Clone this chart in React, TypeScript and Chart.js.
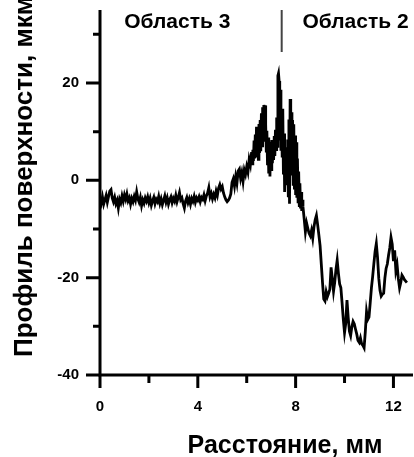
import React, { useEffect, useRef } from "react";
import { Chart, registerables } from "chart.js";

Chart.register(...registerables);

// ---- Data ----
const baselineX = [
  0.0, 0.05, 0.1, 0.15, 0.2, 0.25, 0.3, 0.35, 0.4, 0.45, 0.5, 0.55, 0.6, 0.65, 0.7, 0.75, 0.8, 0.85, 0.9, 0.95,
  1.0, 1.05, 1.1, 1.15, 1.2, 1.25, 1.3, 1.35, 1.4, 1.45, 1.5, 1.55, 1.6, 1.65, 1.7, 1.75, 1.8, 1.85, 1.9, 1.95,
  2.0, 2.05, 2.1, 2.15, 2.2, 2.25, 2.3, 2.35, 2.4, 2.45, 2.5, 2.55, 2.6, 2.65, 2.7, 2.75, 2.8, 2.85, 2.9, 2.95,
  3.0, 3.05, 3.1, 3.15, 3.2, 3.25, 3.3, 3.35, 3.4, 3.45, 3.5, 3.55, 3.6, 3.65, 3.7, 3.75, 3.8, 3.85, 3.9, 3.95,
  4.0, 4.05, 4.1, 4.15, 4.2, 4.25, 4.3, 4.35, 4.4, 4.45, 4.5, 4.55, 4.6, 4.65, 4.7, 4.75, 4.8, 4.85, 4.9, 4.95,
  5.0, 5.05, 5.1, 5.15, 5.2, 5.25, 5.3,
];
const baselineY = [
  -3.8, -4.7, -3.4, -4.9, -4.0, -3.1, -4.5, -3.3, -2.2, -1.9, -3.6, -4.4, -3.5, -4.8, -4.1, -5.7, -3.9, -4.6, -3.2, -4.3,
  -3.0, -3.9, -2.8, -4.2, -3.6, -4.9, -3.7, -4.4, -3.3, -4.1, -2.4, -3.8, -4.5, -3.5, -5.2, -4.0, -4.7, -3.6, -4.3, -3.4,
  -4.6, -3.7, -5.1, -4.2, -3.5, -4.8, -3.9, -4.4, -3.3, -4.7, -3.8, -5.0, -4.1, -3.2, -4.5, -3.6, -4.9, -4.0, -3.4, -4.6,
  -3.7, -4.3, -3.1, -4.4, -3.5, -2.5, -4.0, -3.6, -4.8, -5.7, -4.2, -3.5, -4.6, -3.8, -4.9, -3.7, -4.3, -3.3, -4.5, -3.6,
  -4.1, -3.4, -4.4, -3.5, -3.9, -3.0, -4.2, -3.2, -2.6, -1.5, -3.4, -2.7, -3.8, -2.9, -3.6, -2.2, -3.1, -1.6, -0.9, -1.8,
  -1.3, -2.6, -3.4, -4.0, -4.4, -4.1, -3.6,
];

const peakX = [
  5.35, 5.4, 5.45, 5.5, 5.55, 5.6, 5.65, 5.7, 5.75, 5.8, 5.85, 5.9, 5.95, 6.0, 6.05, 6.1, 6.15,
  6.2, 6.225, 6.25, 6.275, 6.3, 6.325, 6.35, 6.375, 6.4, 6.425, 6.45, 6.475, 6.5, 6.525, 6.55, 6.575,
  6.6, 6.625, 6.65, 6.675, 6.7, 6.725, 6.75, 6.775, 6.8, 6.825, 6.85, 6.875, 6.9, 6.925, 6.95, 6.975,
  7.0, 7.025, 7.05, 7.075, 7.1, 7.125, 7.15, 7.175, 7.2, 7.225, 7.25, 7.275, 7.3, 7.325, 7.35, 7.375,
  7.4, 7.425, 7.45, 7.475, 7.5, 7.525, 7.55, 7.575, 7.6, 7.625, 7.65, 7.675, 7.7, 7.725, 7.75, 7.775,
  7.8, 7.825, 7.85, 7.875, 7.9, 7.925, 7.95, 7.975, 8.0, 8.025, 8.05, 8.075, 8.1, 8.125, 8.15, 8.175,
  8.2, 8.225, 8.25, 8.275,
];
const peakY = [
  -2.8, -0.4, 0.3, -1.2, 0.8, -0.6, 1.9, 2.3, 0.4, 1.6, -0.2, 2.1, 1.2, 2.8, 1.7, 4.3, 3.2,
  5.8, 3.4, 6.3, 4.0, 8.2, 4.5, 9.4, 5.2, 11.0, 5.0, 10.2, 4.3, 11.6, 5.6, 12.4, 6.0,
  13.8, 7.1, 15.0, 8.2, 15.5, 12.8, 15.4, 11.5, 6.0, 10.2, 3.1, 8.8, 1.4, 7.5, 0.8, 7.9,
  2.2, 8.3, 3.5, 7.6, 4.2, 9.1, 5.0, 10.4, 6.3, 12.9, 7.0, 21.5, 22.0, 20.4, 8.2, 18.6,
  6.1, 14.3, 5.0, 14.7, 1.2, 9.6, -2.4, 5.7, -1.0, 6.8, 0.5, 8.4, -3.2, 12.5, -4.8, 16.7,
  2.6, 14.0, 1.0, 12.4, -0.8, 11.5, -1.9, 9.2, -3.0, 7.8, -3.6, 4.5, -4.4, 1.8, -5.2, -0.6,
  -5.8, -2.4, -6.3, -4.0,
];

const tailX = [
  8.3, 8.35, 8.4, 8.45, 8.5, 8.55, 8.6, 8.65, 8.7, 8.75, 8.8, 8.85, 8.9, 8.95, 9.0, 9.05, 9.1, 9.15, 9.2, 9.25,
  9.3, 9.35, 9.4, 9.45, 9.5, 9.55, 9.6, 9.65, 9.7, 9.75, 9.8, 9.85, 9.9, 9.95, 10.0, 10.05, 10.1, 10.15, 10.2, 10.25,
  10.3, 10.35, 10.4, 10.45, 10.5, 10.55, 10.6, 10.65, 10.7, 10.75, 10.8, 10.85, 10.9, 10.95, 11.0, 11.05, 11.1, 11.15, 11.2, 11.25,
  11.3, 11.35, 11.4, 11.45, 11.5, 11.55, 11.6, 11.65, 11.7, 11.75, 11.8, 11.85, 11.9, 11.95, 12.0, 12.05, 12.1, 12.15, 12.2, 12.25,
  12.3, 12.35, 12.4, 12.45, 12.5, 12.55,
];
const tailY = [
  -5.4, -7.9, -10.6, -8.8, -9.9, -10.9, -11.4, -10.3, -11.9, -9.6, -8.1, -7.2, -9.1, -11.2, -13.4, -17.2, -21.0, -24.4, -24.8, -22.9,
  -23.9, -23.2, -22.4, -17.9, -20.2, -22.8, -20.9, -18.3, -16.4, -19.1, -21.3, -22.1, -25.2, -28.6, -31.3, -29.4, -24.6, -28.2, -31.0, -31.9,
  -30.1, -29.0, -29.5, -30.6, -31.6, -32.9, -33.3, -32.4, -33.6, -33.9, -34.4, -31.1, -27.0, -28.6, -28.1, -25.2, -22.1, -19.8, -17.1, -14.6,
  -13.0, -15.9, -20.1, -22.6, -23.8, -23.4, -23.2, -20.1, -18.1, -17.2, -15.4, -13.9, -11.7, -13.1, -16.6, -14.4, -18.6, -17.4, -20.2, -22.1,
  -21.0, -19.5, -19.9, -20.4, -20.7, -21.0,
];

const yTickValues = [-40, -20, 0, 20];
const yMinorTickValues = [-30, -10, 10, 30];
const xTickValues = [0, 4, 8, 12];
const xMinorTickValues = [2, 6, 10];

const regionLabels = ["Область 3", "Область 2"];
const regionLabelCentersMm = [3.16, 10.45];
const regionBoundaryMm = 7.43;

const xAxisTitle = "Расстояние, мм";
const yAxisTitle = "Профиль поверхности, мкм";

const FONT = "'Liberation Sans', Arial, Helvetica, sans-serif";

const decorPlugin = {
  id: "decor",
  afterDraw(chart: any) {
    const ctx = chart.ctx as CanvasRenderingContext2D;
    const { left, right, top, bottom } = chart.chartArea;
    const xs = chart.scales.x;
    const ys = chart.scales.y;
    ctx.save();
    ctx.strokeStyle = "#000";
    ctx.lineCap = "butt";
    ctx.lineWidth = 3;
    // axes
    ctx.beginPath();
    ctx.moveTo(left, top);
    ctx.lineTo(left, bottom + 1.5);
    ctx.moveTo(left - 1.5, bottom);
    ctx.lineTo(right, bottom);
    ctx.stroke();
    // y ticks
    ctx.beginPath();
    yTickValues.forEach((v) => {
      const p = ys.getPixelForValue(v);
      ctx.moveTo(left - 14, p);
      ctx.lineTo(left, p);
    });
    yMinorTickValues.forEach((v) => {
      const p = ys.getPixelForValue(v);
      ctx.moveTo(left - 7, p);
      ctx.lineTo(left, p);
    });
    // x ticks
    xTickValues.forEach((v) => {
      const p = xs.getPixelForValue(v);
      ctx.moveTo(p, bottom);
      ctx.lineTo(p, bottom + 13);
    });
    xMinorTickValues.forEach((v) => {
      const p = xs.getPixelForValue(v);
      ctx.moveTo(p, bottom);
      ctx.lineTo(p, bottom + 8);
    });
    ctx.stroke();

    // region separator
    const bx = xs.getPixelForValue(regionBoundaryMm);
    ctx.strokeStyle = "#444";
    ctx.lineWidth = 2;
    ctx.beginPath();
    ctx.moveTo(bx, top);
    ctx.lineTo(bx, top + 42);
    ctx.stroke();

    // region labels
    ctx.fillStyle = "#000";
    ctx.font = `bold 21px ${FONT}`;
    ctx.textAlign = "center";
    ctx.textBaseline = "middle";
    regionLabels.forEach((t, i) => {
      ctx.fillText(t, xs.getPixelForValue(regionLabelCentersMm[i]), top + 12);
    });

    // axis titles
    ctx.font = `bold 25px ${FONT}`;
    ctx.textAlign = "center";
    ctx.textBaseline = "middle";
    ctx.fillText(xAxisTitle, left + 185, bottom + 71);

    ctx.save();
    ctx.font = `bold 26px ${FONT}`;
    ctx.translate(left - 75, bottom - 18);
    ctx.rotate(-Math.PI / 2);
    ctx.textAlign = "left";
    ctx.fillText(yAxisTitle, 0, 0);
    ctx.restore();

    ctx.restore();
  },
};

export default function App() {
  const canvasRef = useRef<HTMLCanvasElement | null>(null);

  useEffect(() => {
    const canvas = canvasRef.current;
    if (!canvas) return;
    const xs = [...baselineX, ...peakX, ...tailX];
    const ysv = [...baselineY, ...peakY, ...tailY];
    const points = xs.map((x, i) => ({ x, y: ysv[i] }));

    const tickFont = { family: FONT, size: 15, weight: "bold" as const };

    const chart = new Chart(canvas, {
      type: "line",
      data: {
        datasets: [
          {
            data: points,
            borderColor: "#000",
            borderWidth: 2.8,
            pointRadius: 0,
            tension: 0,
            fill: false,
          },
        ],
      },
      options: {
        animation: false,
        responsive: false,
        devicePixelRatio: 1,
        parsing: false as any,
        layout: { padding: { top: 10, right: 1, left: 0, bottom: 0 } },
        plugins: { legend: { display: false }, tooltip: { enabled: false } },
        scales: {
          x: {
            type: "linear",
            min: 0,
            max: 12.8,
            afterBuildTicks: (s: any) => {
              s.ticks = xTickValues.map((v) => ({ value: v }));
            },
            afterFit: (s: any) => {
              s.height = 82;
              s.paddingLeft = 0;
              s.paddingRight = 0;
            },
            grid: { display: false, drawTicks: false },
            border: { display: false },
            ticks: {
              padding: 23,
              color: "#000",
              font: tickFont,
              maxRotation: 0,
              autoSkip: false,
              callback: (v: any) => String(v),
            },
          },
          y: {
            type: "linear",
            min: -40,
            max: 35,
            afterBuildTicks: (s: any) => {
              s.ticks = yTickValues.map((v) => ({ value: v }));
            },
            afterFit: (s: any) => {
              s.width = 100;
              s.paddingTop = 0;
              s.paddingBottom = 0;
            },
            grid: { display: false, drawTicks: false },
            border: { display: false },
            ticks: {
              padding: 21,
              color: "#000",
              font: tickFont,
              autoSkip: false,
              callback: (v: any) => String(v),
            },
          },
        },
      },
      plugins: [decorPlugin],
    });
    return () => chart.destroy();
  }, []);

  return (
    <div style={{ position: "fixed", left: 0, top: 0, width: 414, height: 457, background: "#fff" }}>
      <canvas ref={canvasRef} width={414} height={457} style={{ display: "block" }} />
    </div>
  );
}
